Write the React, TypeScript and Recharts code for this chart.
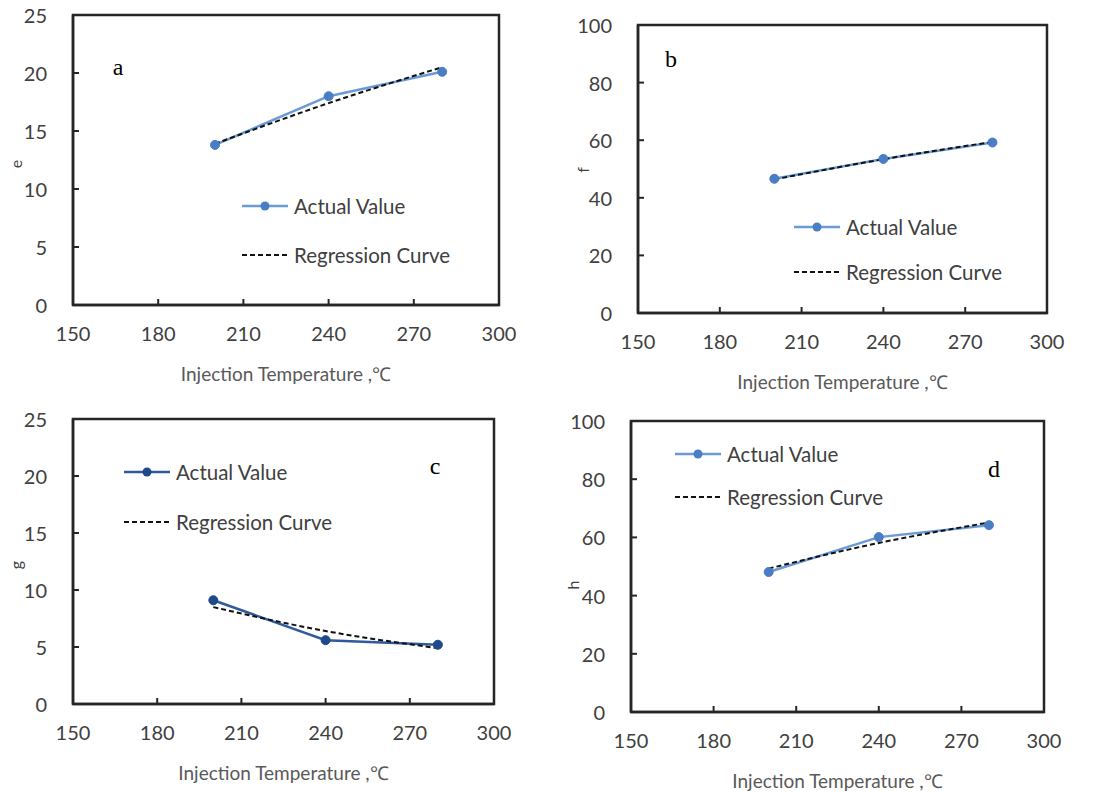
import { Legend, Line, LineChart, ReferenceArea, XAxis, YAxis } from "recharts";

// 四个子图共用的注塑温度（℃）
const temperatures = [200, 240, 280];
const xTicks = [150, 180, 210, 240, 270, 300];
const yTicksE = [0, 5, 10, 15, 20, 25];
const yTicksPct = [0, 20, 40, 60, 80, 100];

const eActual = [13.8, 18.0, 20.1];
const eRegression = [13.9, 17.4, 20.5];
const fActual = [46.6, 53.5, 59.2];
const fRegression = [46.4, 53.4, 59.4];
const gActual = [9.1, 5.6, 5.2];
const gRegression = [8.5, 6.4, 4.9];
const hActual = [48.1, 60.1, 64.2];
const hRegression = [49.3, 58.1, 65.1];

const seriesNames = ["Actual Value", "Regression Curve"];
const xTitle = "Injection Temperature ,℃";

const FONT = "Lato, 'Open Sans', sans-serif";
const X_AXIS_HEIGHT = 78;
const TICK_LEN = 6;
const TICK_FONT = 20;
const AXIS_COLOR = "#262626";

interface Panel {
  letter: string;
  yName: string;
  actual: number[];
  regression: number[];
  yTicks: number[];
  left: number;
  top: number;
  width: number;
  height: number;
  plot: { left: number; right: number; top: number; bottom: number };
  yTitle: { x: number; y: number };
  letterPos: { x: number; y: number };
  legendPos: { x: number; y: number; gap: number };
  lineColor: string;
  markerColor: string;
}

const panels: Panel[] = [
  {
    letter: "a", yName: "e", actual: eActual, regression: eRegression, yTicks: yTicksE,
    left: 0, top: 0, width: 540, height: 400,
    plot: { left: 73, right: 499, top: 15, bottom: 305 },
    yTitle: { x: 15, y: 164 }, letterPos: { x: 118, y: 67 },
    legendPos: { x: 242, y: 206, gap: 49 },
    lineColor: "#6B9BD6", markerColor: "#4A7EC4",
  },
  {
    letter: "b", yName: "f", actual: fActual, regression: fRegression, yTicks: yTicksPct,
    left: 540, top: 0, width: 554, height: 400,
    plot: { left: 98, right: 507, top: 25, bottom: 313 },
    yTitle: { x: 42, y: 170 }, letterPos: { x: 131, y: 59 },
    legendPos: { x: 254, y: 227, gap: 45 },
    lineColor: "#6B9BD6", markerColor: "#4A7EC4",
  },
  {
    letter: "c", yName: "g", actual: gActual, regression: gRegression, yTicks: yTicksE,
    left: 0, top: 400, width: 540, height: 393,
    plot: { left: 73, right: 494, top: 19, bottom: 304 },
    yTitle: { x: 15, y: 165 }, letterPos: { x: 435, y: 66 },
    legendPos: { x: 124, y: 72, gap: 50 },
    lineColor: "#2F5A9C", markerColor: "#1F4A8A",
  },
  {
    letter: "d", yName: "h", actual: hActual, regression: hRegression, yTicks: yTicksPct,
    left: 540, top: 400, width: 554, height: 393,
    plot: { left: 91, right: 504, top: 21, bottom: 312 },
    yTitle: { x: 32, y: 185 }, letterPos: { x: 454, y: 69 },
    legendPos: { x: 135, y: 54, gap: 43 },
    lineColor: "#6B9BD6", markerColor: "#4A7EC4",
  },
];

// 横轴刻度：刻度线朝内，标签在轴下方
function XTick({ x, y, payload }: any) {
  return (
    <g>
      <line x1={x} x2={x} y1={y} y2={y - TICK_LEN} stroke={AXIS_COLOR} strokeWidth={2} />
      <text x={x} y={y + 28} textAnchor="middle" dominantBaseline="central" fontSize={TICK_FONT} fill="#404040" fontFamily={FONT}>
        {payload.value}
      </text>
    </g>
  );
}

// 纵轴刻度：刻度线朝内，标签右对齐
function YTick({ x, y, payload }: any) {
  return (
    <g>
      <line x1={x} x2={x + TICK_LEN} y1={y} y2={y} stroke={AXIS_COLOR} strokeWidth={2} />
      <text x={x - 26} y={y} textAnchor="end" dominantBaseline="central" fontSize={TICK_FONT} fill="#404040" fontFamily={FONT}>
        {payload.value}
      </text>
    </g>
  );
}

// 图例：实测值（带圆点实线）与回归曲线（黑色虚线）
function renderLegend(p: Panel) {
  return () => (
    <svg width={260} height={p.legendPos.gap + 24} style={{ display: "block", overflow: "visible" }}>
      {seriesNames.map((name, i) => {
        const cy = 12 + i * p.legendPos.gap;
        return (
          <g key={name}>
            {i === 0 ? (
              <>
                <line x1={0} x2={46} y1={cy} y2={cy} stroke={p.lineColor} strokeWidth={2.5} />
                <circle cx={23} cy={cy} r={4.5} fill={p.markerColor} />
              </>
            ) : (
              <line x1={0} x2={46} y1={cy} y2={cy} stroke="#111" strokeWidth={2} strokeDasharray="5 3" />
            )}
            <text x={52} y={cy} dominantBaseline="central" fontSize={20.5} fill="#404040" fontFamily={FONT}>
              {name}
            </text>
          </g>
        );
      })}
    </svg>
  );
}

function PanelChart({ p }: { p: Panel }) {
  const data = temperatures.map((t, i) => ({ t, actual: p.actual[i], regression: p.regression[i] }));
  const yMax = p.yTicks[p.yTicks.length - 1];
  const bottomMargin = p.height - p.plot.bottom - X_AXIS_HEIGHT;
  return (
    <div style={{ position: "absolute", left: p.left, top: p.top, width: p.width, height: p.height }}>
      <LineChart
        width={p.width}
        height={p.height}
        data={data}
        margin={{ top: p.plot.top, left: 0, right: p.width - p.plot.right, bottom: bottomMargin }}
        style={{ fontFamily: FONT }}
      >
        <XAxis
          dataKey="t"
          type="number"
          domain={[150, 300]}
          ticks={xTicks}
          height={X_AXIS_HEIGHT}
          stroke={AXIS_COLOR}
          strokeWidth={2.5}
          tickLine={false}
          tickSize={0}
          tickMargin={0}
          tick={<XTick />}
          label={{
            content: ({ viewBox }: any) => (
              <text
                x={viewBox.x + viewBox.width / 2}
                y={viewBox.y + 68}
                textAnchor="middle"
                dominantBaseline="central"
                fontSize={19}
                fill="#595959"
                fontFamily={FONT}
              >
                {xTitle}
              </text>
            ),
          }}
        />
        <YAxis
          type="number"
          domain={[0, yMax]}
          ticks={p.yTicks}
          width={p.plot.left}
          stroke={AXIS_COLOR}
          strokeWidth={2.5}
          tickLine={false}
          tickSize={0}
          tickMargin={0}
          tick={<YTick />}
          label={{
            content: () => (
              <text
                x={p.yTitle.x}
                y={p.yTitle.y}
                transform={`rotate(-90 ${p.yTitle.x} ${p.yTitle.y})`}
                textAnchor="middle"
                dominantBaseline="central"
                fontSize={16}
                fill="#404040"
                fontFamily={FONT}
              >
                {p.yName}
              </text>
            ),
          }}
        />
        <ReferenceArea x1={150} x2={300} y1={0} y2={yMax} fill="none" stroke={AXIS_COLOR} strokeWidth={2.5} />
        <Legend
          layout="vertical"
          align="center"
          verticalAlign="middle"
          wrapperStyle={{ left: p.legendPos.x, top: p.legendPos.y - 12, width: 260 }}
          content={renderLegend(p)}
        />
        <Line
          dataKey="actual"
          name={seriesNames[0]}
          type="linear"
          stroke={p.lineColor}
          strokeWidth={2.5}
          dot={{ r: 4.5, fill: p.markerColor, stroke: p.markerColor, strokeWidth: 1 }}
          isAnimationActive={false}
        />
        <Line
          dataKey="regression"
          name={seriesNames[1]}
          type="monotone"
          stroke="#111"
          strokeWidth={2}
          strokeDasharray="5 3"
          dot={false}
          isAnimationActive={false}
        />
      </LineChart>
      <div
        style={{
          position: "absolute",
          left: p.letterPos.x,
          top: p.letterPos.y,
          transform: "translate(-50%, -50%)",
          fontFamily: "'Liberation Serif', 'Times New Roman', serif",
          fontSize: 24,
          color: "#000",
          lineHeight: 1,
        }}
      >
        {p.letter}
      </div>
    </div>
  );
}

export default function App() {
  return (
    <div style={{ position: "absolute", left: 0, top: 0, width: 1094, height: 793, background: "#fff" }}>
      {panels.map((p) => (
        <PanelChart key={p.letter} p={p} />
      ))}
    </div>
  );
}
